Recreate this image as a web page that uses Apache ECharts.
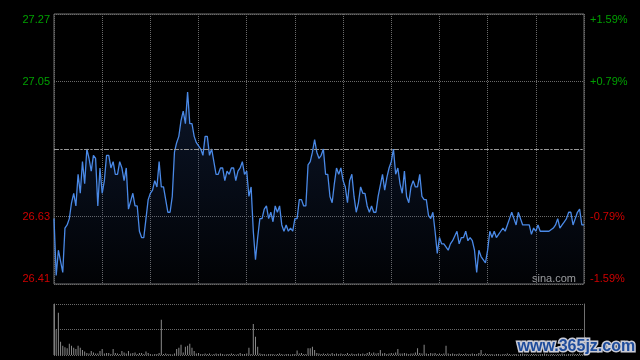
<!DOCTYPE html>
<html><head><meta charset="utf-8">
<style>html,body{margin:0;padding:0;background:#000}#c{width:640px;height:360px}</style>
<script src="https://cdn.jsdelivr.net/npm/echarts@6/dist/echarts.min.js"></script>
</head><body><div id="c"></div>
<script>
const prevClose = 26.84;
const leftLabels = ['26.41', '26.63', '', '27.05', '27.27'];
const rightLabels = ['-1.59%', '-0.79%', '', '+0.79%', '+1.59%'];

const priceMinutes = [0,1,2,4,5,6,7,8,9,10,11,12,13,14,15,16,17,18,19,20,21,22,23,24,25,26,27,28,29,30,31,32,33,34,36,37,38,39,40,41,42,43,44,45,46,47,48,49,50,52,53,54,55,56,57,58,59,60,61,62,63,64,65,66,67,68,69,70,71,72,74,75,76,77,78,79,80,81,82,83,84,85,86,87,88,89,90,91,92,93,94,95,96,97,98,99,100,101,102,103,104,105,106,107,108,109,110,111,112,113,114,115,116,117,118,119,120,121,122,123,124,125,126,127,128,129,130,131,132,133,134,135,136,137,138,139,140,141,142,143,144,145,146,147,148,150,151,152,153,154,155,156,157,158,159,160,161,162,163,164,165,166,167,168,169,170,171,172,173,174,175,176,177,178,180,181,182,184,185,186,187,188,189,190,191,192,193,194,195,197,198,199,200,201,202,203,204,205,206,207,208,209,210,211,212,213,214,215,217,218,219,220,221,222,226,228,229,230,231,232,233,234,235,236,237,238,239,240,241,242];
const prices = [26.62,26.44,26.52,26.45,26.59,26.60,26.62,26.67,26.70,26.66,26.76,26.70,26.80,26.73,26.84,26.81,26.77,26.82,26.81,26.66,26.78,26.70,26.74,26.82,26.82,26.78,26.80,26.76,26.76,26.80,26.78,26.74,26.78,26.65,26.70,26.66,26.66,26.58,26.56,26.56,26.62,26.68,26.70,26.71,26.74,26.72,26.80,26.72,26.72,26.64,26.64,26.69,26.83,26.86,26.88,26.93,26.96,26.92,27.02,26.92,26.92,26.88,26.86,26.85,26.84,26.82,26.88,26.88,26.82,26.84,26.76,26.76,26.78,26.78,26.74,26.77,26.76,26.78,26.78,26.74,26.77,26.78,26.80,26.76,26.77,26.69,26.72,26.58,26.49,26.56,26.62,26.62,26.65,26.66,26.62,26.64,26.61,26.66,26.64,26.66,26.60,26.58,26.60,26.58,26.59,26.58,26.62,26.62,26.68,26.68,26.66,26.66,26.79,26.80,26.83,26.87,26.83,26.81,26.82,26.84,26.76,26.76,26.69,26.67,26.73,26.78,26.76,26.78,26.74,26.72,26.67,26.74,26.76,26.69,26.64,26.67,26.72,26.70,26.70,26.66,26.64,26.66,26.64,26.64,26.69,26.76,26.71,26.75,26.78,26.80,26.84,26.76,26.78,26.73,26.70,26.77,26.69,26.67,26.72,26.74,26.72,26.72,26.76,26.69,26.68,26.68,26.63,26.62,26.64,26.58,26.51,26.56,26.54,26.54,26.52,26.54,26.55,26.58,26.54,26.56,26.56,26.58,26.55,26.56,26.55,26.52,26.45,26.52,26.50,26.48,26.52,26.58,26.56,26.58,26.56,26.57,26.58,26.59,26.58,26.60,26.62,26.64,26.62,26.60,26.64,26.62,26.60,26.60,26.60,26.57,26.59,26.58,26.60,26.58,26.58,26.59,26.60,26.62,26.59,26.60,26.61,26.62,26.64,26.64,26.60,26.62,26.64,26.65,26.60,26.60];

// relative volume per minute (max = 100)
const volumes = [
100,50,83,26,18,15,13,22,18,14,
12,18,14,10,7,4,3,8,5,3,
3,8,12,3,4,4,2,12,4,3,
2,8,5,3,8,3,4,5,2,4,
4,2,7,4,2,1,2,2,4,69,
2,3,2,2,1,3,12,14,20,5,
16,18,22,14,8,3,4,2,2,3,
2,3,1,2,3,2,3,2,1,2,
2,3,2,1,2,4,2,2,3,14,
2,61,36,16,3,2,2,1,2,2,
2,1,2,3,2,1,2,2,1,2,
2,9,3,4,2,2,13,13,16,10,
4,3,2,3,2,3,2,4,2,3,
2,3,2,2,4,2,3,2,2,3,
2,3,2,4,6,3,5,3,4,10,
3,4,2,3,4,3,5,12,3,3,
4,3,2,3,3,5,13,4,3,20,
3,2,4,3,4,2,3,2,3,18,
3,2,3,2,2,3,2,2,3,2,
2,3,2,2,4,10,2,3,2,2,
2,1,2,2,1,2,2,3,2,1,
2,2,1,2,3,2,2,1,2,2,
2,1,2,2,3,2,1,2,2,1,
2,2,3,2,1,2,2,3,2,2,
3,2,4];

const span = prevClose * 0.0159;
const step = span / 2;
const idx = v => Math.round(v / step) + 2;
const gridLine = {show: true, lineStyle: {color: '#6a6a6a', type: 'dotted', width: 1}};
const labelColor = v => (v > 1e-9 ? '#00a000' : '#d00000');

const chart = echarts.init(document.getElementById('c'), null, {renderer: 'canvas'});
chart.setOption({
  backgroundColor: '#000',
  animation: false,
  grid: [
    {left: 54, top: 14, width: 530, height: 270, show: true, borderColor: '#707070', borderWidth: 1},
    {left: 54, top: 304, width: 530, height: 51, show: false}
  ],
  xAxis: [
    {gridIndex: 0, type: 'value', min: 0, max: 242, interval: 22,
     axisLine: {show: false}, axisTick: {show: false}, axisLabel: {show: false}, splitLine: gridLine},
    {gridIndex: 1, type: 'value', min: 0, max: 242,
     axisLine: {show: false}, axisTick: {show: false}, axisLabel: {show: false}, splitLine: {show: false}}
  ],
  yAxis: [
    {gridIndex: 0, type: 'value', min: -span, max: span, interval: step, position: 'left',
     axisLine: {show: false}, axisTick: {show: false}, splitLine: gridLine,
     axisLabel: {margin: 4, fontSize: 11, fontFamily: 'Arial', color: labelColor,
       verticalAlignMinLabel: 'bottom', verticalAlignMaxLabel: 'top',
       formatter: v => leftLabels[idx(v)] || ''}},
    {gridIndex: 0, type: 'value', min: -span, max: span, interval: step, position: 'right',
     axisLine: {show: false}, axisTick: {show: false}, splitLine: {show: false},
     axisLabel: {margin: 6, fontSize: 11, fontFamily: 'Arial', color: labelColor,
       verticalAlignMinLabel: 'bottom', verticalAlignMaxLabel: 'top',
       formatter: v => rightLabels[idx(v)] || ''}},
    {gridIndex: 1, type: 'value', min: 0, max: 100, interval: 50, position: 'left',
     axisLine: {show: true, lineStyle: {color: '#707070'}}, axisTick: {show: false},
     axisLabel: {show: false}, splitLine: gridLine},
    {gridIndex: 1, type: 'value', min: 0, max: 100, interval: 50, position: 'right',
     axisLine: {show: true, lineStyle: {color: '#707070'}}, axisTick: {show: false},
     axisLabel: {show: false}, splitLine: {show: false}}
  ],
  series: [
    {type: 'line', xAxisIndex: 0, yAxisIndex: 0,
     data: priceMinutes.map((m, i) => [m, prices[i] - prevClose]),
     symbol: 'none', lineStyle: {color: '#4a89e6', width: 1.3},
     areaStyle: {origin: 'start', color: new echarts.graphic.LinearGradient(0, 0, 0, 1, [
       {offset: 0, color: 'rgba(35,65,125,0.45)'}, {offset: 1, color: 'rgba(35,65,125,0.06)'}])},
     markLine: {silent: true, symbol: ['none', 'none'], label: {show: false},
       lineStyle: {color: '#9a9a9a', type: [5, 2, 1, 2], width: 1}, data: [{yAxis: 0}]}},
    {type: 'bar', xAxisIndex: 1, yAxisIndex: 2,
     data: volumes.map((v, i) => [i, v]), barWidth: 1,
     itemStyle: {color: '#8a8a8a'}}
  ],
  graphic: [
    {type: 'text', left: 532, top: 273, style: {text: 'sina.com', fill: '#a0a0a0', font: '11px Arial'}},
    {type: 'text', left: 516, top: 337, z: 100, style: {text: 'www.365jz.com', fill: '#1d4b9b',
      stroke: '#c9cbd6', lineWidth: 3, font: 'bold 16px Arial'}}
  ]
});
</script></body></html>
